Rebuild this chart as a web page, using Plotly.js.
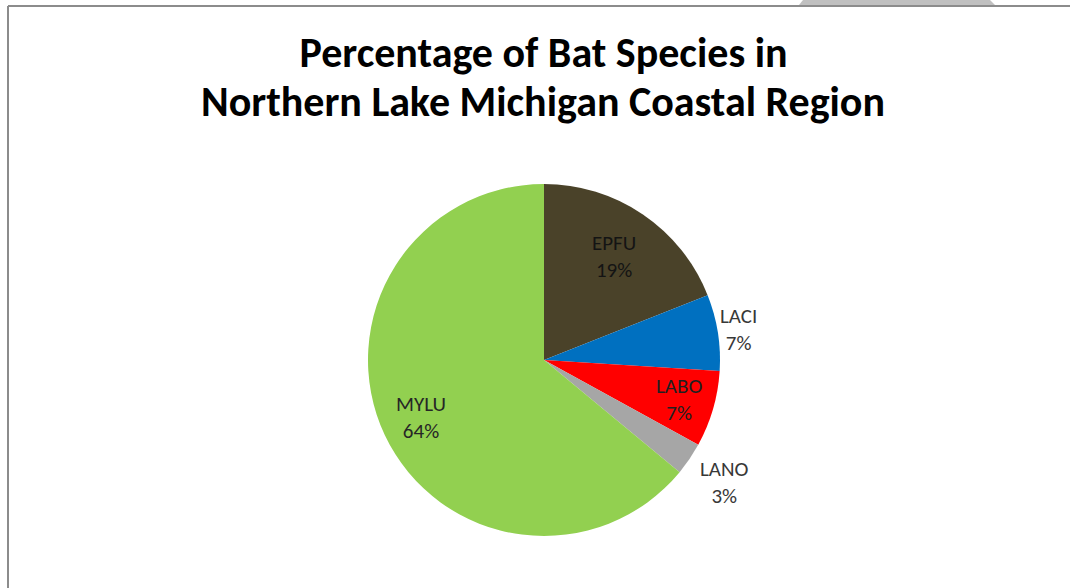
<!DOCTYPE html>
<html>
<head>
<meta charset="utf-8">
<script src="https://cdn.plot.ly/plotly-3.0.1.min.js"></script>
<style>
  html, body { margin: 0; padding: 0; background: #ffffff; }
  #chart { width: 1070px; height: 588px; }
</style>
</head>
<body>
<div id="chart"></div>
<script>
// Bat species recorded in the northern Lake Michigan coastal region
const species = ['EPFU', 'LACI', 'LABO', 'LANO', 'MYLU'];
const shares = [19, 7, 7, 3, 64];
const sliceColors = ['#4a4229', '#0070c0', '#ff0000', '#a6a6a6', '#92d050'];
const titleLines = ['Percentage of Bat Species in', 'Northern Lake Michigan Coastal Region'];

// Label distance from the pie centre (fraction of the radius) and label ink
const labelRadius = [0.71, 1.12, 0.80, 1.24, 0.77];
const labelInk = ['#141414', '#383838', '#202020', '#383838', '#262626'];

const W = 1070, H = 588;
const pieCx = 544, pieCy = 360, pieR = 176;   // pie geometry in pixels

const labelFont = 'Carlito, "Liberation Sans Narrow", "Liberation Sans", Arial, sans-serif';

const trace = {
  type: 'pie',
  labels: species,
  values: shares,
  sort: false,
  direction: 'clockwise',
  rotation: 0,
  marker: { colors: sliceColors, line: { width: 0 } },
  textinfo: 'none',
  hoverinfo: 'label+percent',
  showlegend: false,
  domain: { x: [(pieCx - pieR) / W, (pieCx + pieR) / W], y: [1 - (pieCy + pieR) / H, 1 - (pieCy - pieR) / H] }
};

// Category + percentage labels, placed along each slice's middle angle
const total = shares.reduce((a, b) => a + b, 0);
const sliceLabels = [];
let cum = 0;
species.forEach((name, i) => {
  const mid = (cum + shares[i] / 2) / total;
  cum += shares[i];
  const theta = 2 * Math.PI * mid;          // clockwise from 12 o'clock
  const px = pieCx + labelRadius[i] * pieR * Math.sin(theta);
  const py = pieCy - labelRadius[i] * pieR * Math.cos(theta);
  const pct = Math.round(shares[i] / total * 100);
  sliceLabels.push({
    text: name + '<br>' + pct + '%',
    xref: 'paper', yref: 'paper',
    x: px / W, y: 1 - py / H,
    xanchor: 'center', yanchor: 'middle',
    showarrow: false,
    font: { family: labelFont, size: 21, color: labelInk[i] }
  });
});

const titleFont = { family: 'Carlito, "Liberation Sans", Arial, sans-serif', size: 42, color: '#000000' };

const layout = {
  width: W,
  height: H,
  margin: { l: 0, r: 0, t: 0, b: 0 },
  paper_bgcolor: '#ffffff',
  plot_bgcolor: '#ffffff',
  title: {
    text: '<b>' + titleLines[0] + '</b>',
    font: titleFont,
    x: 543.5 / W, xanchor: 'center',
    y: 1 - 52 / H, yanchor: 'middle', yref: 'paper'
  },
  annotations: [{
    text: '<b>' + titleLines[1] + '</b>',
    font: titleFont,
    xref: 'paper', yref: 'paper',
    x: 542.5 / W, xanchor: 'center',
    y: 1 - 102 / H, yanchor: 'middle',
    showarrow: false
  }].concat(sliceLabels),
  shapes: [
    // chart frame (left and top edges)
    { type: 'line', xref: 'paper', yref: 'paper', x0: 8 / W, x1: 8 / W, y0: 0, y1: 1 - 6 / H,
      line: { color: '#8c8c8c', width: 2 } },
    { type: 'line', xref: 'paper', yref: 'paper', x0: 8 / W, x1: 1, y0: 1 - 6 / H, y1: 1 - 6 / H,
      line: { color: '#8c8c8c', width: 2 } },
    // grey tab on the top edge
    { type: 'path', xref: 'paper', yref: 'paper',
      path: 'M ' + (803 / W) + ' 1 L ' + (990 / W) + ' 1 L ' + (995 / W) + ' ' + (1 - 5 / H) +
            ' L ' + (799 / W) + ' ' + (1 - 5 / H) + ' Z',
      fillcolor: '#c0c0c0', line: { width: 0 } }
  ]
};

Plotly.newPlot('chart', [trace], layout, { staticPlot: true, displayModeBar: false });
</script>
</body>
</html>
